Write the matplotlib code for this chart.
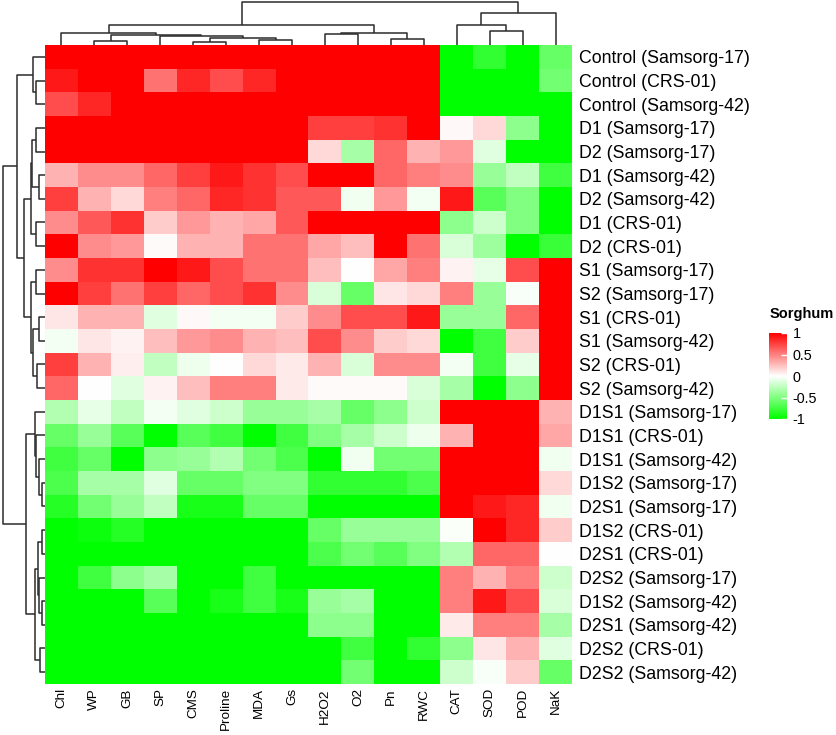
import numpy as np
import matplotlib
matplotlib.use("Agg")
import matplotlib.pyplot as plt
from matplotlib.colors import LinearSegmentedColormap

plt.rcParams['font.family'] = ['Liberation Sans', 'DejaVu Sans']

col_labels = ['Chl', 'WP', 'GB', 'SP', 'CMS', 'Proline', 'MDA', 'Gs',
              'H2O2', 'O2', 'Pn', 'RWC', 'CAT', 'SOD', 'POD', 'NaK']

row_labels = ['Control (Samsorg-17)', 'Control (CRS-01)', 'Control (Samsorg-42)',
              'D1 (Samsorg-17)', 'D2 (Samsorg-17)', 'D1 (Samsorg-42)',
              'D2 (Samsorg-42)', 'D1 (CRS-01)', 'D2 (CRS-01)',
              'S1 (Samsorg-17)', 'S2 (Samsorg-17)', 'S1 (CRS-01)',
              'S1 (Samsorg-42)', 'S2 (CRS-01)', 'S2 (Samsorg-42)',
              'D1S1 (Samsorg-17)', 'D1S1 (CRS-01)', 'D1S1 (Samsorg-42)',
              'D1S2 (Samsorg-17)', 'D2S1 (Samsorg-17)', 'D1S2 (CRS-01)',
              'D2S1 (CRS-01)', 'D2S2 (Samsorg-17)', 'D1S2 (Samsorg-42)',
              'D2S1 (Samsorg-42)', 'D2S2 (CRS-01)', 'D2S2 (Samsorg-42)']

# 标准化后的数值
values = [
    [1, 1, 1, 1, 1, 1, 1, 1, 1, 1, 1, 1, -1, -0.8, -1, -0.6],
    [0.9, 1, 1, 0.55, 0.85, 0.7, 0.85, 1, 1, 1, 1, 1, -1, -1, -1, -0.55],
    [0.7, 0.85, 1, 1, 1, 1, 1, 1, 1, 1, 1, 1, -1, -1, -1, -1],
    [1, 1, 1, 1, 1, 1, 1, 1, 0.75, 0.75, 0.8, 1, 0.03, 0.15, -0.45, -1],
    [1, 1, 1, 1, 1, 1, 1, 1, 0.15, -0.35, 0.6, 0.3, 0.4, -0.12, -1, -1],
    [0.3, 0.45, 0.45, 0.6, 0.75, 0.9, 0.8, 0.7, 1, 1, 0.6, 0.5, 0.45, -0.4, -0.25, -0.75],
    [0.75, 0.3, 0.15, 0.5, 0.6, 0.85, 0.8, 0.65, 0.65, -0.06, 0.4, -0.05, 0.9, -0.65, -0.5, -1],
    [0.45, 0.65, 0.8, 0.2, 0.4, 0.3, 0.35, 0.65, 1, 1, 1, 1, -0.45, -0.2, -0.5, -1],
    [1, 0.45, 0.4, 0.02, 0.3, 0.3, 0.55, 0.55, 0.35, 0.25, 1, 0.55, -0.15, -0.38, -1, -0.78],
    [0.45, 0.8, 0.8, 1, 0.9, 0.7, 0.55, 0.55, 0.25, 0.0, 0.35, 0.5, 0.05, -0.1, 0.7, 1],
    [1, 0.75, 0.55, 0.75, 0.6, 0.7, 0.8, 0.45, -0.15, -0.6, 0.1, 0.15, 0.5, -0.4, -0.03, 1],
    [0.1, 0.3, 0.3, -0.12, 0.03, -0.04, -0.04, 0.2, 0.45, 0.7, 0.7, 0.9, -0.4, -0.4, 0.6, 1],
    [-0.05, 0.1, 0.05, 0.25, 0.4, 0.45, 0.3, 0.25, 0.7, 0.45, 0.2, 0.15, -1, -0.75, 0.2, 1],
    [0.75, 0.3, 0.07, -0.25, -0.07, 0.0, 0.15, 0.08, 0.3, -0.15, 0.45, 0.45, -0.04, -0.75, -0.1, 1],
    [0.6, 0.0, -0.12, 0.05, 0.25, 0.5, 0.5, 0.08, 0.02, 0.02, 0.02, -0.15, -0.35, -1, -0.45, 1],
    [-0.3, -0.1, -0.25, -0.05, -0.12, -0.2, -0.4, -0.4, -0.35, -0.6, -0.45, -0.2, 1, 1, 1, 0.3],
    [-0.6, -0.4, -0.65, -1, -0.65, -0.75, -1, -0.75, -0.5, -0.35, -0.2, -0.07, 0.3, 1, 1, 0.35],
    [-0.75, -0.6, -1, -0.45, -0.4, -0.3, -0.55, -0.7, -1, -0.06, -0.55, -0.55, 1, 1, 1, -0.06],
    [-0.7, -0.35, -0.35, -0.12, -0.6, -0.6, -0.5, -0.5, -0.8, -0.8, -0.8, -0.7, 1, 1, 1, 0.15],
    [-0.85, -0.55, -0.4, -0.25, -0.9, -0.9, -0.6, -0.6, -1, -1, -1, -1, 1, 0.9, 0.85, -0.06],
    [-1, -0.95, -0.85, -1, -1, -1, -1, -1, -0.6, -0.4, -0.4, -0.4, -0.02, 1, 0.85, 0.2],
    [-1, -1, -1, -1, -1, -1, -1, -1, -0.7, -0.55, -0.65, -0.5, -0.3, 0.6, 0.6, 0.0],
    [-1, -0.75, -0.45, -0.35, -1, -1, -0.75, -1, -1, -1, -1, -1, 0.5, 0.3, 0.5, -0.2],
    [-1, -1, -1, -0.65, -1, -0.9, -0.75, -0.9, -0.4, -0.35, -1, -1, 0.5, 0.9, 0.7, -0.15],
    [-1, -1, -1, -1, -1, -1, -1, -1, -0.45, -0.45, -1, -1, 0.08, 0.5, 0.5, -0.35],
    [-1, -1, -1, -1, -1, -1, -1, -1, -1, -0.75, -1, -0.8, -0.45, 0.1, 0.3, -0.12],
    [-1, -1, -1, -1, -1, -1, -1, -1, -1, -0.55, -1, -1, -0.2, -0.03, 0.2, -0.6],
]

# 聚类树: (子节点a, 子节点b, 高度)，叶子为0..n-1，内部节点依次编号
row_merges = [
    (1, 2, 9), (0, 27, 11.7), (3, 4, 9), (5, 6, 6), (29, 30, 12.7),
    (7, 8, 9), (31, 32, 14), (9, 10, 9), (11, 12, 6), (13, 14, 8.3),
    (35, 36, 11.7), (34, 37, 14), (33, 38, 21), (28, 39, 28.3),
    (18, 19, 3.3), (17, 41, 5.7), (16, 42, 9), (15, 43, 10),
    (20, 21, 3.3), (23, 24, 3.3), (22, 46, 5.7), (45, 47, 7.3),
    (25, 26, 5), (48, 49, 10), (44, 50, 19), (40, 51, 42.3),
]
col_merges = [
    (1, 2, 4.3), (4, 5, 3.3), (6, 7, 5), (17, 18, 6.7), (3, 19, 9),
    (16, 20, 10), (0, 21, 11.7), (8, 9, 10.7), (10, 11, 5.7), (23, 24, 11.7),
    (22, 25, 20), (13, 14, 14), (12, 27, 20), (28, 15, 32.3), (26, 29, 43.3),
]


def draw_tree(ax, merges, n, vertical):
    pos = {i: i + 0.5 for i in range(n)}
    hgt = {i: 0.0 for i in range(n)}
    for k, (a, b, h) in enumerate(merges):
        xs = [pos[a], pos[a], pos[b], pos[b]]
        ys = [hgt[a], h, h, hgt[b]]
        if vertical:
            ax.plot(xs, ys, color='#2b2b2b', lw=1.1, solid_capstyle='butt')
        else:
            ax.plot(ys, xs, color='#2b2b2b', lw=1.1, solid_capstyle='butt')
        pos[n + k] = (pos[a] + pos[b]) / 2
        hgt[n + k] = h


W, H = 837, 735
fig = plt.figure(figsize=(W / 100, H / 100), dpi=100)


def box(x0, y0, x1, y1):
    return [x0 / W, 1 - y1 / H, (x1 - x0) / W, (y1 - y0) / H]


cmap = LinearSegmentedColormap.from_list('gwr', ['#00FF00', '#FFFFFF', '#FF0000'])
nr, nc = len(row_labels), len(col_labels)

ax = fig.add_axes(box(45, 45, 572, 684))
mesh = ax.pcolormesh(np.array(values), cmap=cmap, vmin=-1, vmax=1)
ax.set_xlim(0, nc)
ax.set_ylim(nr, 0)
ax.set_xticks(np.arange(nc) + 0.5)
ax.set_xticklabels(col_labels, rotation=90, fontsize=9.7, va='top')
ax.set_yticks(np.arange(nr) + 0.5)
ax.set_yticklabels(row_labels, fontsize=12.8)
ax.yaxis.tick_right()
ax.tick_params(axis='y', length=0, pad=5)
ax.tick_params(axis='x', length=0, pad=3)
for s in ax.spines.values():
    s.set_visible(False)

axr = fig.add_axes(box(0, 45, 45, 684))
draw_tree(axr, row_merges, nr, vertical=False)
axr.set_xlim(45, 0)
axr.set_ylim(nr, 0)
axr.axis('off')

axc = fig.add_axes(box(45, 0, 572, 45))
draw_tree(axc, col_merges, nc, vertical=True)
axc.set_xlim(0, nc)
axc.set_ylim(0, 45)
axc.axis('off')

cax = fig.add_axes(box(769, 333, 787, 419))
cb = fig.colorbar(mesh, cax=cax, ticks=[-1, -0.5, 0, 0.5, 1])
cb.outline.set_visible(False)
cb.ax.set_yticklabels(['-1', '-0.5', '0', '0.5', '1'])
cax.tick_params(direction='in', color='white', length=4, width=1,
                labelsize=10.4, pad=4)
fig.text(770 / W, 1 - 314 / H, 'Sorghum', fontsize=10.5, fontweight='bold',
         va='center', ha='left')

fig.savefig('out.png', dpi=100)
